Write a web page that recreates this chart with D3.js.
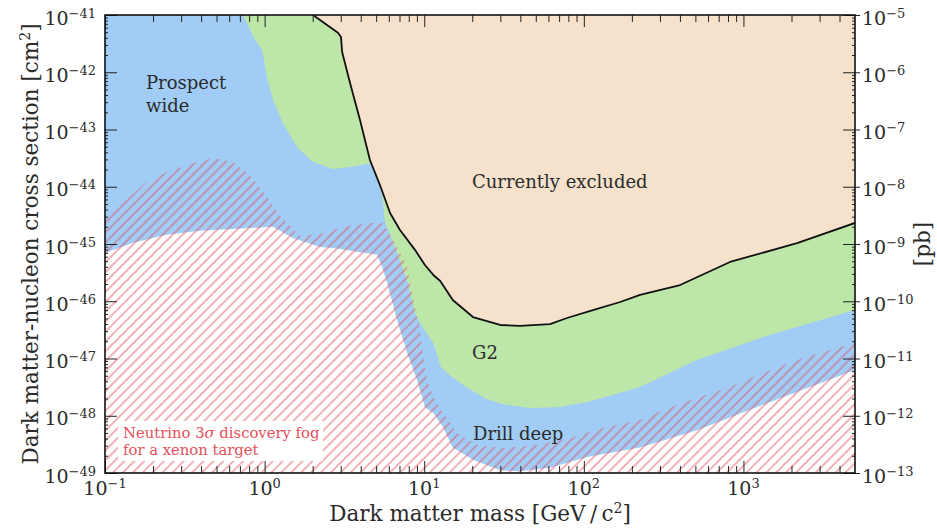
<!DOCTYPE html>
<html><head><meta charset="utf-8">
<script src="https://cdn.jsdelivr.net/npm/d3@7/dist/d3.min.js"></script>
<style>
body{margin:0;background:#fff}
svg{display:block}
text{font-family:"DejaVu Serif",serif;fill:#2b2b2b}
</style>
</head><body>
<svg id="c" width="937" height="528"></svg>
<script>
// ---- tick values / labels ----
const massTicks = [0.1, 1, 10, 100, 1000];
const massTickExp = ["\u22121", "0", "1", "2", "3"];
const sigmaTicks = [1e-41, 1e-42, 1e-43, 1e-44, 1e-45, 1e-46, 1e-47, 1e-48, 1e-49];
const sigmaTickExp = ["\u221241", "\u221242", "\u221243", "\u221244", "\u221245", "\u221246", "\u221247", "\u221248", "\u221249"];
const pbTicks = [1e-5, 1e-6, 1e-7, 1e-8, 1e-9, 1e-10, 1e-11, 1e-12, 1e-13];
const pbTickExp = ["\u22125", "\u22126", "\u22127", "\u22128", "\u22129", "\u221210", "\u221211", "\u221212", "\u221213"];

// ---- currently excluded boundary (mass GeV, cross section cm^2) ----
const exclMass = [2.01, 2.88, 3.01, 3.06, 3.43, 3.96, 4.57, 5.28, 6.11, 7.05, 8.75, 10.1, 11.4, 12.6, 15.1, 20.2, 29.9, 39.8, 61.4, 78.5, 114, 169, 225, 401, 824, 2168, 5000];
const exclSigma = [1.0e-41, 4.9e-42, 4.13e-42, 2.26e-42, 6.5e-43, 1.47e-43, 2.93e-44, 1.07e-44, 3.48e-45, 1.76e-45, 7.9e-46, 4.3e-46, 2.88e-46, 2.26e-46, 1.05e-46, 5.3e-47, 3.85e-47, 3.70e-47, 4.0e-47, 5.1e-47, 7.0e-47, 9.7e-47, 1.29e-46, 1.92e-46, 4.85e-46, 1.04e-45, 2.33e-45];

// ---- G2 sensitivity ----
const g2Mass = [0.733, 0.871, 0.964, 1.035, 1.13, 1.30, 1.60, 2.01, 2.69, 3.43, 4.38, 4.71, 5.44, 5.68, 6.56, 7.80, 8.75, 9.42, 11.4, 12.7, 14.9, 19.1, 24.7, 30.7, 46.0, 71.0, 105, 152, 225, 512, 1327, 5000];
const g2Sigma = [1e-41, 3.66e-42, 2.45e-42, 8.3e-43, 3.27e-43, 1.30e-43, 4.9e-44, 2.70e-44, 2.04e-44, 2.21e-44, 2.50e-44, 2.50e-44, 7.5e-45, 2.42e-45, 8.9e-46, 2.35e-46, 6.2e-47, 4.17e-47, 1.87e-47, 7.1e-48, 4.75e-48, 2.93e-48, 1.96e-48, 1.60e-48, 1.37e-48, 1.42e-48, 1.74e-48, 2.30e-48, 3.18e-48, 9.4e-48, 2.38e-47, 7.0e-47];

// ---- Prospect wide / Drill deep sensitivity (lower edge of blue) ----
const drillMass = [0.1, 0.150, 0.244, 0.394, 0.634, 1.13, 1.29, 1.51, 1.85, 2.22, 2.69, 5.06, 5.44, 5.85, 6.76, 7.80, 9.02, 10.1, 11.4, 13.1, 15.1, 20.2, 29.9, 39.8, 61.4, 105, 225, 512, 1327, 5000];
const drillSigma = [6.97e-46, 1.05e-45, 1.45e-45, 1.70e-45, 1.82e-45, 2.00e-45, 1.62e-45, 1.26e-45, 1.05e-45, 8.9e-46, 8.5e-46, 6.5e-46, 4.0e-46, 2.1e-46, 4.7e-47, 1.26e-47, 4.2e-48, 1.41e-48, 1.12e-48, 6.3e-49, 2.8e-49, 1.7e-49, 1.12e-49, 1.07e-49, 1.23e-49, 1.9e-49, 2.8e-49, 5.6e-49, 1.55e-48, 6.3e-48];

// ---- Neutrino 3 sigma discovery fog (xenon) ----
const fogMass = [0.1, 0.183, 0.244, 0.377, 0.475, 0.634, 0.811, 1.04, 1.25, 1.67, 2.22, 3.10, 4.38, 5.44, 5.85, 6.76, 7.80, 8.75, 9.41, 9.83, 10.4, 11.4, 13.1, 16.1, 21.4, 31.2, 50.9, 82.0, 140, 225, 313, 512, 824, 1327, 2168, 3490, 5000];
const fogSigma = [2.84e-45, 1.21e-44, 1.81e-44, 2.70e-44, 3.18e-44, 2.70e-44, 1.60e-44, 6.6e-45, 3.08e-45, 1.38e-45, 1.50e-45, 1.98e-45, 2.33e-45, 2.33e-45, 1.76e-45, 8.9e-46, 3.96e-46, 7.9e-47, 3.15e-47, 1.25e-47, 4.2e-48, 2.13e-48, 1.12e-48, 5.0e-49, 3.08e-49, 2.73e-49, 3.08e-49, 4.09e-49, 6.4e-49, 8.4e-49, 1.26e-48, 2.04e-48, 3.18e-48, 5.6e-48, 9.4e-48, 1.41e-47, 1.87e-47];

// ---- layout ----
const L = 105, R = 855, T = 15, B = 473;
const svg = d3.select("#c");
const x = d3.scaleLog().domain([0.1, 5000]).range([L, R]);
const y = d3.scaleLog().domain([1e-49, 1e-41]).range([B, T]);
const yR = d3.scaleLog().domain([1e-13, 1e-5]).range([B, T]);

const zip = (a, b) => a.map((v, i) => [v, b[i]]);
const excl = zip(exclMass, exclSigma), g2 = zip(g2Mass, g2Sigma),
      drill = zip(drillMass, drillSigma), fog = zip(fogMass, fogSigma);

const defs = svg.append("defs");
defs.append("clipPath").attr("id", "clip").append("rect")
  .attr("x", L).attr("y", T).attr("width", R - L).attr("height", B - T);
const pat = defs.append("pattern").attr("id", "hatch").attr("patternUnits", "userSpaceOnUse")
  .attr("width", 7).attr("height", 7).attr("patternTransform", "rotate(45)");
pat.append("line").attr("x1", 1).attr("y1", 0).attr("x2", 1).attr("y2", 7)
  .attr("stroke", "#e04b58").attr("stroke-opacity", 0.72).attr("stroke-width", 1.2);

const plot = svg.append("g").attr("clip-path", "url(#clip)");
plot.append("rect").attr("x", L).attr("y", T).attr("width", R - L).attr("height", B - T).attr("fill", "#a1ccf5");

const areaTop = d3.area().x(d => x(d[0])).y0(T).y1(d => y(d[1]));
const areaBot = d3.area().x(d => x(d[0])).y0(B).y1(d => y(d[1]));

plot.append("path").attr("d", areaTop(g2)).attr("fill", "#bde6a9");
plot.append("path").attr("d", areaBot(drill)).attr("fill", "#ffffff");
plot.append("path").attr("d", areaBot(fog)).attr("fill", "url(#hatch)");
plot.append("path").attr("d", areaTop(excl)).attr("fill", "#f6e2cc");
plot.append("path").attr("d", d3.line().x(d => x(d[0])).y(d => y(d[1]))(excl))
  .attr("fill", "none").attr("stroke", "#111").attr("stroke-width", 1.8).attr("stroke-linejoin", "round");

// ---- axes ----
function minorVals(lo, hi) {
  const out = [];
  for (let e = Math.floor(Math.log10(lo)); e <= Math.ceil(Math.log10(hi)); e++)
    for (let m = 2; m <= 9; m++) { const v = m * Math.pow(10, e); if (v > lo * 1.0001 && v < hi * 0.9999) out.push(v); }
  return out;
}
function styleAxis(g) { g.select(".domain").remove(); g.selectAll("line").attr("stroke", "#222").attr("stroke-width", 1); }

const xMinor = minorVals(0.1, 5000);
svg.append("g").attr("transform", `translate(0,${B})`).call(d3.axisBottom(x).tickValues(massTicks).tickSize(-12).tickSizeOuter(0).tickFormat("")).call(styleAxis);
svg.append("g").attr("transform", `translate(0,${B})`).call(d3.axisBottom(x).tickValues(xMinor).tickSize(-7).tickSizeOuter(0).tickFormat("")).call(styleAxis);
svg.append("g").attr("transform", `translate(0,${T})`).call(d3.axisTop(x).tickValues(massTicks).tickSize(-12).tickSizeOuter(0).tickFormat("")).call(styleAxis);
svg.append("g").attr("transform", `translate(0,${T})`).call(d3.axisTop(x).tickValues(xMinor).tickSize(-7).tickSizeOuter(0).tickFormat("")).call(styleAxis);

svg.append("g").attr("transform", `translate(${L},0)`).call(d3.axisLeft(y).tickValues(sigmaTicks).tickSize(-12).tickSizeOuter(0).tickFormat("")).call(styleAxis);
svg.append("g").attr("transform", `translate(${L},0)`).call(d3.axisLeft(y).tickValues(minorVals(1e-49, 1e-41)).tickSize(-3).tickSizeOuter(0).tickFormat("")).call(styleAxis);
svg.append("g").attr("transform", `translate(${R},0)`).call(d3.axisRight(yR).tickValues(pbTicks).tickSize(-12).tickSizeOuter(0).tickFormat("")).call(styleAxis);
svg.append("g").attr("transform", `translate(${R},0)`).call(d3.axisRight(yR).tickValues(pbTicks).tickSize(5).tickSizeOuter(0).tickFormat("")).call(styleAxis);
svg.append("g").attr("transform", `translate(${R},0)`).call(d3.axisRight(yR).tickValues(minorVals(1e-13, 1e-5)).tickSize(-3).tickSizeOuter(0).tickFormat("")).call(styleAxis);

svg.append("rect").attr("x", L).attr("y", T).attr("width", R - L).attr("height", B - T)
  .attr("fill", "none").attr("stroke", "#111").attr("stroke-width", 1.6);

// ---- tick labels ----
function powLabel(xx, yy, exp, anchor) {
  const t = svg.append("text").attr("x", xx).attr("y", yy).attr("text-anchor", anchor).attr("font-size", 19);
  t.append("tspan").text("10");
  t.append("tspan").attr("dy", -7).attr("font-size", 13).text(exp);
  return t;
}
massTicks.forEach((v, i) => powLabel(x(v), 495, massTickExp[i], "middle"));
sigmaTicks.forEach((v, i) => powLabel(96, y(v) + 9.5, sigmaTickExp[i], "end"));
pbTicks.forEach((v, i) => powLabel(862, yR(v) + 9.5, pbTickExp[i], "start"));

// ---- axis titles ----
const xt = svg.append("text").attr("x", (L + R) / 2).attr("y", 521).attr("text-anchor", "middle").attr("font-size", 21.5);
xt.append("tspan").text("Dark matter mass [GeV\u2009/\u2009c");
xt.append("tspan").attr("dy", -8).attr("font-size", 14).text("2");
xt.append("tspan").attr("dy", 8).text("]");

const yt = svg.append("text").attr("transform", `translate(38,${(T + B) / 2}) rotate(-90)`).attr("text-anchor", "middle").attr("font-size", 21.5);
yt.append("tspan").text("Dark matter-nucleon cross section [cm");
yt.append("tspan").attr("dy", -8).attr("font-size", 14).text("2");
yt.append("tspan").attr("dy", 8).text("]");

svg.append("text").attr("transform", `translate(930,${(T + B) / 2}) rotate(-90)`).attr("text-anchor", "middle").attr("font-size", 21.5).text("[pb]");

// ---- region labels ----
const lab = (tx, xx, yy) => svg.append("text").attr("x", xx).attr("y", yy).attr("font-size", 18).text(tx);
lab("Prospect", 146, 89);
lab("wide", 146, 112);
lab("Currently excluded", 472, 188);
lab("G2", 472, 359);
lab("Drill deep", 473, 440);

// ---- fog legend ----
svg.append("rect").attr("x", 118).attr("y", 421).attr("width", 205).attr("height", 40).attr("fill", "#fff");
const f1 = svg.append("text").attr("x", 123).attr("y", 438).attr("font-size", 14.8).style("fill", "#e5505a");
f1.append("tspan").text("Neutrino 3");
f1.append("tspan").attr("font-style", "italic").text("\u03c3");
f1.append("tspan").text(" discovery fog");
svg.append("text").attr("x", 123).attr("y", 455).attr("font-size", 14.8).style("fill", "#e5505a").text("for a xenon target");
</script>
</body></html>
